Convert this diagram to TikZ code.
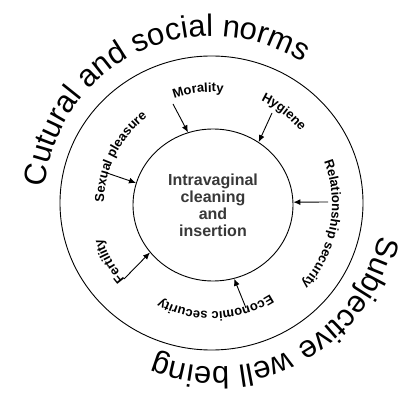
\documentclass[tikz,border=0pt]{standalone}
\usepackage{fontspec}
\setmainfont{Liberation Sans}
\usetikzlibrary{shapes,arrows.meta,decorations.text}

\newcommand{\ringfont}{\fontsize{31}{31}\selectfont}
\newcommand{\labfont}{\fontsize{13}{13}\selectfont\bfseries}

\begin{document}
\begin{tikzpicture}[
    x=1pt, y=1pt,
    core/.style={ellipse, draw, line width=0.9pt, minimum width=160pt, minimum height=152pt, inner sep=0pt, text=black!78, align=center, font=\fontsize{16}{17}\selectfont\bfseries},
    ring/.style={ellipse, draw, line width=0.9pt, minimum width=303pt, minimum height=294pt, inner sep=0pt},
    lab/.style={decorate, decoration={text along path, text align=center, text={|\labfont|#1}}},
    big/.style={decorate, decoration={text along path, text align=center, text={|\ringfont|#1}}},
    arrow/.style={line width=0.9pt, -{Latex[length=7pt,width=6pt]}}
]
\useasboundingbox (-212,-199) rectangle (187,204);

% Circles
\node[ring] (ring) at (-0.5,1) {};
\node[core] (core) at (1,-1) {Intravaginal\\cleaning\\and\\insertion};

% Curved titles
\path[big={Cutural and social norms}] (195.75:168) arc[start angle=195.75, end angle=35.75, radius=168];
\path[big={Subjective well being}, shift={(5,3)}] (28:166) arc[start angle=28, end angle=-152, radius=166];

% Labels
\path[lab={Morality}] (137:112) arc[start angle=137, end angle=57, radius=112];
\path[lab={Hygiene}] (92:114.5) arc[start angle=92, end angle=12, radius=114.5];
\path[lab={Sexual pleasure}] (193:108) arc[start angle=193, end angle=113, radius=108];
\path[lab={Relationship security}] (39.5:120) arc[start angle=39.5, end angle=-60.5, radius=120];
\path[lab={Fertility}] (-111:115) arc[start angle=-111, end angle=-191, radius=115];
\path[lab={Economic security}] (-38:108) arc[start angle=-38, end angle=-138, radius=108];

% Arrow tails
\coordinate (morality) at (-39,100);
\coordinate (hygiene) at (60,91);
\coordinate (sexual) at (-105,31);
\coordinate (relation) at (116,2);
\coordinate (fertility) at (-88,-75);
\coordinate (economic) at (34,-104);

% Arrows to core
\draw[arrow] (morality) -- (core.109);
\draw[arrow] (hygiene) -- (core.54);
\draw[arrow] (sexual) -- (core.164);
\draw[arrow] (relation) -- (core.2);
\draw[arrow] (fertility) -- (core.217);
\draw[arrow] (economic) -- (core.286);

\end{tikzpicture}
\end{document}
